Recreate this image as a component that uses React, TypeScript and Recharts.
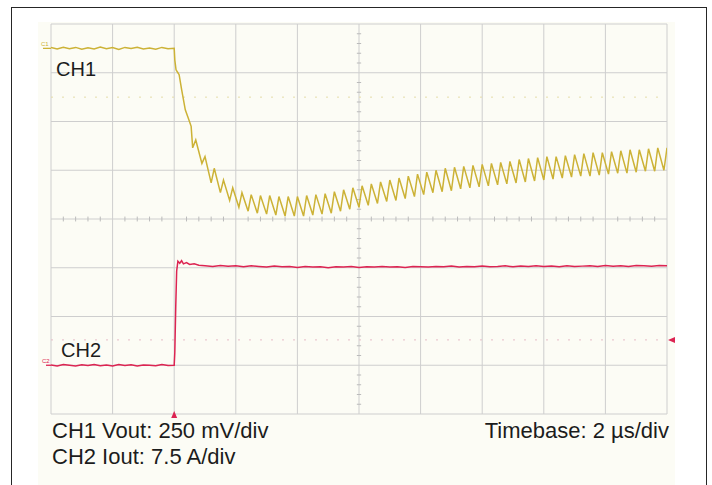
import { LineChart, Line, XAxis, YAxis, ReferenceLine, ReferenceDot } from "recharts";

// time axis in µs (2 µs/div, 10 divisions); level axis in divisions
const timeDivs = [0, 2, 4, 6, 8, 10, 12, 14, 16, 18, 20];
const levelDivs = [-4, -3, -2, -1, 0, 1, 2, 3, 4];

// CH1 Vout deviation in mV (250 mV/div), sampled every 0.2 µs before the load step
const ch1PreTrigger = [4, -3, 6, -2, 5, -4, 3, -3, 7, -2, 4, -5, 5, -1, 6, -3, 2, -4, 5, -2, 0];
const ch1DropTimes = [4.02, 4.06, 4.12, 4.16, 4.24, 4.36, 4.45, 4.55];
const ch1DropValues = [-60, -110, -125, -135, -210, -315, -355, -400];
// ripple after the step: one trough and one peak every 0.3 µs from 4.6 µs
const ch1Troughs = [
  -510, -590, -690, -740, -780, -815, -835, -845, -850, -855, -860, -860, -860,
  -855, -850, -845, -835, -825, -815, -805, -795, -785, -780, -770, -760, -750,
  -740, -735, -730, -720, -715, -710, -705, -700, -695, -690, -685, -680, -675,
  -670, -665, -660, -655, -655, -650, -645, -640, -640, -635, -630, -630, -625,
];
const ch1Peaks = [
  -470, -555, -615, -675, -715, -740, -750, -755, -755, -760, -760, -760, -755,
  -750, -745, -735, -725, -715, -705, -695, -685, -675, -665, -655, -645, -635,
  -625, -615, -610, -605, -600, -595, -590, -585, -580, -570, -565, -560, -555,
  -555, -550, -545, -540, -535, -535, -530, -525, -520, -520, -515, -510, -510,
];

// CH2 Iout in A (7.5 A/div)
const ch2PreTrigger = [
  0.05, -0.1, 0.1, 0, -0.12, 0.08, -0.05, 0.12, -0.08, 0.03, -0.1, 0.1, -0.04,
  0.07, -0.12, 0.05, 0, -0.08, 0.1, -0.05, 0,
];
const ch2StepTimes = [4.02, 4.05, 4.08, 4.12, 4.18, 4.24, 4.3, 4.4, 4.5, 4.65, 4.8];
const ch2StepValues = [2, 9, 14.5, 16.0, 15.7, 16.1, 15.6, 15.8, 15.5, 15.6, 15.4];
// settled current, every 0.25 µs from 5 µs
const ch2Settled = [
  15.3, 15.2, 15.35, 15.25, 15.3, 15.15, 15.3, 15.2, 15.1, 15.25, 15.15, 15.2,
  15.05, 15.2, 15.1, 15.15, 15.0, 15.15, 15.1, 15.2, 15.05, 15.15, 15.1, 15.2,
  15.1, 15.15, 15.05, 15.2, 15.15, 15.1, 15.2, 15.15, 15.25, 15.1, 15.2, 15.15,
  15.25, 15.15, 15.2, 15.3, 15.15, 15.25, 15.2, 15.3, 15.2, 15.25, 15.15, 15.3,
  15.2, 15.25, 15.3, 15.2, 15.35, 15.25, 15.3, 15.2, 15.35, 15.3, 15.25, 15.35, 15.3,
];

const ch1Data = [
  ...ch1PreTrigger.map((v, i) => ({ t: i * 0.2, v })),
  ...ch1DropTimes.map((t, i) => ({ t, v: ch1DropValues[i] })),
  ...ch1Troughs.flatMap((v, k) => [
    { t: 4.6 + k * 0.3, v },
    { t: 4.7 + k * 0.3, v: ch1Peaks[k] },
  ]),
];

const ch2Data = [
  ...ch2PreTrigger.map((v, i) => ({ t: i * 0.2, v })),
  ...ch2StepTimes.map((t, i) => ({ t, v: ch2StepValues[i] })),
  ...ch2Settled.map((v, i) => ({ t: 5 + i * 0.25, v })),
];

// minor ticks on the centre cross (5 per division)
const minorTimeTicks = Array.from({ length: 49 }, (_, i) => (i + 1) * 0.4).filter(
  (_, i) => (i + 1) % 5 !== 0
);
const minorLevelTicks = Array.from({ length: 39 }, (_, i) => -4 + (i + 1) * 0.2).filter(
  (_, i) => (i + 1) % 5 !== 0
);

const GRID = "#cecece";
const CH1_COLOR = "#ccb236";
const CH2_COLOR = "#dc2452";
const FONT = "'Liberation Sans', Arial, sans-serif";

export default function App() {
  return (
    <div
      style={{
        position: "absolute",
        left: 0,
        top: 0,
        width: 712,
        height: 485,
        overflow: "hidden",
        background: "#fff",
        fontFamily: FONT,
        color: "#1c1c1c",
      }}
    >
      <div
        style={{
          position: "absolute",
          left: 11,
          top: 7,
          width: 696,
          height: 500,
          border: "1.5px solid #262626",
          boxSizing: "border-box",
        }}
      />
      <div
        style={{
          position: "absolute",
          left: 38,
          top: 22,
          width: 637,
          height: 470,
          background: "#fcfcf5",
        }}
      />

      <div style={{ position: "absolute", left: 0, top: 0 }}>
        <LineChart width={712} height={485} margin={{ top: 24, right: 45, bottom: 71, left: 51 }}>
          <XAxis type="number" dataKey="t" domain={[0, 20]} allowDataOverflow hide />
          <YAxis yAxisId="div" type="number" domain={[-4, 4]} allowDataOverflow hide />
          <YAxis yAxisId="ch1" type="number" domain={[-1875, 125]} allowDataOverflow hide />
          <YAxis yAxisId="ch2" type="number" domain={[-7.5, 52.5]} allowDataOverflow hide />

          {timeDivs.map((t) => (
            <ReferenceLine key={`vx${t}`} x={t} yAxisId="div" stroke={GRID} strokeWidth={1} />
          ))}
          {levelDivs.map((d) => (
            <ReferenceLine key={`hy${d}`} y={d} yAxisId="div" stroke={GRID} strokeWidth={1} />
          ))}
          {minorTimeTicks.map((t) => (
            <ReferenceLine
              key={`mt${t}`}
              yAxisId="div"
              segment={[
                { x: t, y: -0.05 },
                { x: t, y: 0.05 },
              ]}
              stroke="#bbbbbb"
            />
          ))}
          {minorLevelTicks.map((d) => (
            <ReferenceLine
              key={`ml${d}`}
              yAxisId="div"
              segment={[
                { x: 9.93, y: d },
                { x: 10.07, y: d },
              ]}
              stroke="#bbbbbb"
            />
          ))}

          <ReferenceLine y={-250} yAxisId="ch1" stroke="#e4dca8" strokeDasharray="2 9" />
          <ReferenceLine y={3.9} yAxisId="ch2" stroke="#e6bcc8" strokeDasharray="2 9" />

          <Line
            yAxisId="ch1"
            data={ch1Data}
            dataKey="v"
            type="linear"
            stroke={CH1_COLOR}
            strokeWidth={1.5}
            dot={false}
            isAnimationActive={false}
          />
          <Line
            yAxisId="ch2"
            data={ch2Data}
            dataKey="v"
            type="linear"
            stroke={CH2_COLOR}
            strokeWidth={1.5}
            dot={false}
            isAnimationActive={false}
          />

          {/* channel ground markers */}
          <ReferenceDot
            x={0}
            y={0}
            yAxisId="ch1"
            shape={(p: any) => (
              <g>
                <line x1={p.cx - 8} y1={p.cy} x2={p.cx} y2={p.cy} stroke={CH1_COLOR} strokeWidth={1.3} />
                <text x={p.cx - 10} y={p.cy - 2} fontSize={6} fill={CH1_COLOR} fontFamily={FONT}>
                  C1
                </text>
              </g>
            )}
          />
          <ReferenceDot
            x={0}
            y={0}
            yAxisId="ch2"
            shape={(p: any) => (
              <g>
                <line x1={p.cx - 5} y1={p.cy} x2={p.cx} y2={p.cy} stroke={CH2_COLOR} strokeWidth={1.3} />
                <text x={p.cx - 9} y={p.cy - 2} fontSize={6} fill={CH2_COLOR} fontFamily={FONT}>
                  C2
                </text>
              </g>
            )}
          />
          {/* trigger position and trigger level */}
          <ReferenceDot
            x={4}
            y={-4}
            yAxisId="div"
            shape={(p: any) => (
              <path d={`M${p.cx - 3},${p.cy + 4} L${p.cx},${p.cy - 3} L${p.cx + 3},${p.cy + 4} Z`} fill={CH2_COLOR} />
            )}
          />
          <ReferenceDot
            x={20}
            y={3.9}
            yAxisId="ch2"
            shape={(p: any) => (
              <path d={`M${p.cx + 1},${p.cy} L${p.cx + 8},${p.cy - 3} L${p.cx + 8},${p.cy + 3} Z`} fill={CH2_COLOR} />
            )}
          />
        </LineChart>
      </div>

      <div style={{ position: "absolute", left: 56, top: 59, fontSize: 20, lineHeight: "20px" }}>CH1</div>
      <div style={{ position: "absolute", left: 61, top: 340, fontSize: 20, lineHeight: "20px" }}>CH2</div>
      <div style={{ position: "absolute", left: 52, top: 420, fontSize: 22, lineHeight: "22px" }}>
        CH1 Vout: 250 mV/div
      </div>
      <div style={{ position: "absolute", left: 52, top: 446, fontSize: 22, lineHeight: "22px" }}>
        CH2 Iout: 7.5 A/div
      </div>
      <div
        style={{
          position: "absolute",
          right: 712 - 669,
          top: 420,
          fontSize: 22,
          lineHeight: "22px",
          whiteSpace: "nowrap",
        }}
      >
        Timebase: 2 µs/div
      </div>
    </div>
  );
}
